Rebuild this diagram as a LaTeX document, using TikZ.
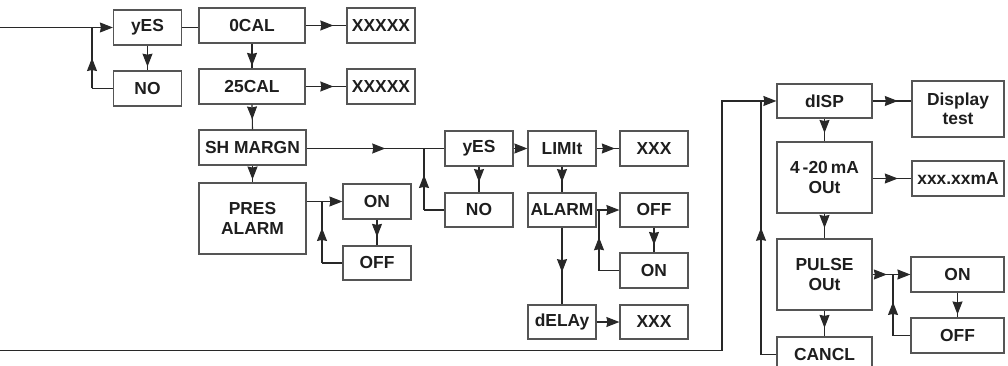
\documentclass[tikz,border=0pt]{standalone}
\usepackage{fontspec}
\setmainfont{Liberation Sans}
\usetikzlibrary{arrows.meta,decorations.markings,calc}
\definecolor{boxgray}{RGB}{85,85,85}
\definecolor{wiregray}{RGB}{40,40,40}
\definecolor{textblack}{RGB}{30,30,30}
\begin{document}
\begin{tikzpicture}[x=1pt,y=-1pt,
 box/.style={draw=boxgray,line width=1.2pt,font=\fontsize{17.4}{19.5}\selectfont\bfseries,text=textblack,align=center,inner sep=0pt,minimum width=68pt,minimum height=35pt},
 wire/.style={draw=wiregray,line width=1.1pt},
 tipat/.style={postaction={decorate},decoration={markings,mark=at position #1 with {\arrow{Stealth[length=13pt,width=10pt,inset=1pt]}}}},
 endtip/.style={-{Stealth[length=13pt,width=10pt,inset=1pt]}}
]
\useasboundingbox (0,0) rectangle (1008,366);
\clip (0,0) rectangle (1008,366);

% nodes
\node[box] (yes1) at (147.5,27.5) {yES};
\node[box] (no1) at (147.5,88.5) {NO};
\node[box,minimum width=106pt] (cal0) at (252,25.5) {0CAL};
\node[box] (x1) at (381,25.5) {XXXXX};
\node[box,minimum width=106pt] (cal25) at (252,86.5) {25CAL};
\node[box] (x2) at (381,86.5) {XXXXX};
\node[box,minimum width=107pt] (shm) at (252.5,147.5) {SH MARGN};
\node[box,minimum width=107pt,minimum height=71pt] (pres) at (252.5,218.5) {PRES\\ALARM};
\node[box] (on1) at (377,201.5) {ON};
\node[box,minimum height=34pt] (off1) at (377,263) {OFF};
\node[box] (yes2) at (479,148.5) {yES};
\node[box,minimum height=34pt] (no2) at (479,210) {NO};
\node[box] (limit) at (562,148.5) {LIMIt};
\node[box] (xxx1) at (654,148.5) {XXX};
\node[box,minimum height=34pt] (alarm) at (562,210) {ALARM};
\node[box,minimum height=34pt] (off2) at (654,210) {OFF};
\node[box] (on2) at (654,270.5) {ON};
\node[box,minimum height=34pt] (delay) at (562,322) {dELAy};
\node[box,minimum height=34pt] (xxx2) at (654,322) {XXX};
\node[box,minimum width=95pt,minimum height=34pt] (disp) at (824.5,101) {dISP};
\node[box,minimum width=92pt,minimum height=56pt] (dtest) at (958,109) {Display\\test};
\node[box,minimum width=95pt,minimum height=71pt] (ma) at (824.5,177.5) {4\,-20\,mA\\OUt};
\node[box,minimum width=92pt] (xxxma) at (958,178.5) {xxx.xxmA};
\node[box,minimum width=95pt,minimum height=71pt] (pulse) at (824.5,274.5) {PULSE\\OUt};
\node[box,minimum width=93pt] (on3) at (957.5,274.5) {ON};
\node[box,minimum width=93pt] (off3) at (957.5,335.5) {OFF};
\node[box,minimum width=95pt] (cancl) at (824.5,354.5) {CANCL};

% junctions
\coordinate (in) at (0,27.5);
\coordinate (j1) at (92,27.5);
\coordinate (j2) at (424,148.5);
\coordinate (j3) at (322,201.5);
\coordinate (j4) at (599,210);
\coordinate (ret) at (0,350.5);
\coordinate (rc) at (722,350.5);
\coordinate (rt) at (722,101);
\coordinate (j5) at (761,101);
\coordinate (j6) at (893,274.5);

% left group
\draw[wire] (in) -- (j1);
\draw[wire,endtip] (j1) -- (yes1.west);
\draw[wire] (no1.west) -- (no1.west -| j1);
\draw[wire,tipat=0.5] (no1.west -| j1) -- (j1);
\draw[wire,tipat=0.85] (yes1.south) -- (no1.north);
\draw[wire] (yes1.east) -- (yes1.east -| cal0.west);
\draw[wire,tipat=0.68] (cal0.east) -- (cal0.east -| x1.west);
\draw[wire,tipat=0.68] (cal25.east) -- (cal25.east -| x2.west);
\draw[wire,tipat=0.9] (cal0.south) -- (cal25.north);
\draw[wire,tipat=0.6] (cal25.south) -- (shm.north);
\draw[wire,tipat=0.83] (shm.south) -- (pres.north);

% SH MARGN branch
\draw[wire,tipat=0.67] (shm.east |- j2) -- (j2);
\draw[wire] (j2) -- (yes2.west);
\draw[wire] (no2.west) -- (no2.west -| j2);
\draw[wire,tipat=0.57] (no2.west -| j2) -- (j2);
\draw[wire,tipat=0.6] (yes2.south) -- (no2.north);

% PRES ALARM branch
\draw[wire] (pres.east |- j3) -- (j3);
\draw[wire,endtip] (j3) -- (on1.west);
\draw[wire] (off1.west) -- (off1.west -| j3);
\draw[wire,tipat=0.57] (off1.west -| j3) -- (j3);
\draw[wire,tipat=0.67] (on1.south) -- (off1.north);

% LIMIT branch
\draw[wire,endtip] (yes2.east) -- (limit.west);
\draw[wire,tipat=0.8] (limit.east) -- (xxx1.west);
\draw[wire,tipat=0.6] (limit.south) -- (alarm.north);
\draw[wire] (alarm.east) -- (j4);
\draw[wire,endtip] (j4) -- (off2.west);
\draw[wire] (on2.west) -- (on2.west -| j4);
\draw[wire,tipat=0.55] (on2.west -| j4) -- (j4);
\draw[wire,tipat=0.7] (off2.south) -- (on2.north);
\draw[wire,tipat=0.58] (alarm.south) -- (delay.north);
\draw[wire,endtip] (delay.east) -- (xxx2.west);

% right group
\draw[wire] (ret) -- (rc) -- (rt) -- (j5);
\draw[wire,endtip] (j5) -- (disp.west);
\draw[wire] (cancl.west) -- (cancl.west -| j5);
\draw[wire,tipat=0.5] (cancl.west -| j5) -- (j5);
\draw[wire,tipat=0.65] (disp.east) -- (disp.east -| dtest.west);
\draw[wire,tipat=0.63] (disp.south) -- (ma.north);
\draw[wire,tipat=0.65] (ma.east |- xxxma.west) -- (xxxma.west);
\draw[wire,tipat=0.58] (ma.south) -- (pulse.north);
\draw[wire,tipat=0.7] (pulse.east) -- (j6);
\draw[wire,endtip] (j6) -- (on3.west);
\draw[wire] (off3.west) -- (off3.west -| j6);
\draw[wire,tipat=0.55] (off3.west -| j6) -- (j6);
\draw[wire,tipat=0.88] (on3.south) -- (off3.north);
\draw[wire,tipat=0.67] (pulse.south) -- (cancl.north);
\end{tikzpicture}
\end{document}
